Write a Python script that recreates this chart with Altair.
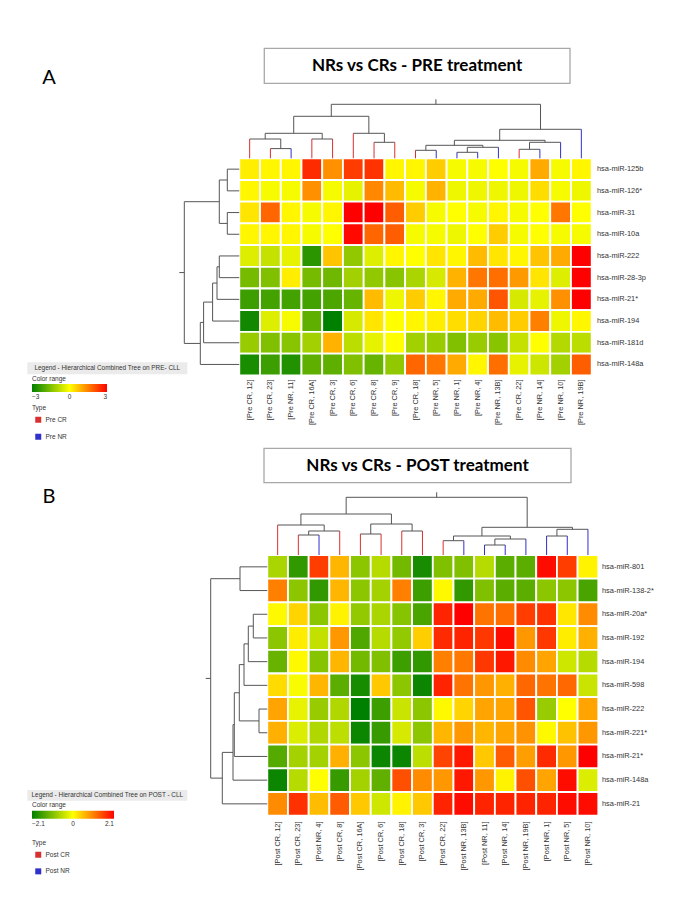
import altair as alt
import pandas as pd

# ---------------- data: panel A (PRE) ----------------
rows_A = ["hsa-miR-125b", "hsa-miR-126*", "hsa-miR-31", "hsa-miR-10a", "hsa-miR-222",
          "hsa-miR-28-3p", "hsa-miR-21*", "hsa-miR-194", "hsa-miR-181d", "hsa-miR-148a"]
cols_A = ["[Pre CR, 12]", "[Pre CR, 23]", "[Pre NR, 11]", "[Pre CR, 16A]", "[Pre CR, 3]",
          "[Pre CR, 6]", "[Pre CR, 8]", "[Pre CR, 9]", "[Pre CR, 18]", "[Pre NR, 5]",
          "[Pre NR, 1]", "[Pre NR, 4]", "[Pre NR, 13B]", "[Pre CR, 22]", "[Pre NR, 14]",
          "[Pre NR, 10]", "[Pre NR, 19B]"]
vals_A_125b = [0.2, 0.1, 0.1, 2.5, 1.3, 2.3, 2.4, 0.1, 0.1, 0.6, -0.1, -0.1, 0.0, -0.1, 1.0, -0.1, 0.1]
vals_A_126 = [0.1, -0.1, -0.1, 1.3, -0.1, -0.3, 1.4, 0.8, -0.1, 0.9, -0.2, -0.2, -0.2, -0.2, 0.4, -0.1, -0.2]
vals_A_31 = [0.3, 1.8, 0.1, -0.1, 0.1, 3.0, 3.0, 1.9, 0.6, -0.1, 0.0, -0.1, 0.1, -0.1, 0.0, 1.6, 0.0]
vals_A_10a = [0.1, 0.1, 0.1, -0.1, 0.0, 2.9, 1.8, 1.9, -0.1, -0.1, -0.2, 0.0, 0.6, -0.1, 0.0, -0.1, -0.1]
vals_A_222 = [-0.4, -0.7, -0.3, -2.5, 0.7, -1.3, -0.4, 0.1, 0.0, 0.3, 0.1, 0.8, 0.3, 0.1, 0.7, 1.0, 3.0]
vals_A_28 = [-1.6, -1.5, 0.2, -1.6, -1.7, -1.1, -1.3, -1.4, -1.0, -0.5, 0.9, 1.6, 1.7, 1.2, 0.3, -0.4, 3.0]
vals_A_21s = [-2.3, -2.2, -2.2, -2.2, -2.1, -1.8, 0.8, -0.2, 0.6, 0.1, 1.0, 1.0, 2.0, -0.5, -0.3, 1.3, 3.0]
vals_A_194 = [-2.8, -0.4, -0.1, -1.9, -3.0, -0.5, 0.3, 0.0, 0.1, 0.2, 0.4, 0.5, 0.8, 0.6, 1.5, -0.2, 0.1]
vals_A_181d = [-1.2, -1.5, -1.4, -1.1, 0.9, -0.8, -0.3, 0.0, -1.1, -1.2, -1.5, -1.2, -1.4, -0.7, 0.0, -0.9, -0.8]
vals_A_148a = [-2.7, -2.3, -2.6, -1.9, -1.9, -1.5, -1.8, -1.3, 1.8, 1.6, 1.0, 0.1, 1.7, -0.3, -0.6, -1.1, 1.9]
vals_A = [vals_A_125b, vals_A_126, vals_A_31, vals_A_10a, vals_A_222,
          vals_A_28, vals_A_21s, vals_A_194, vals_A_181d, vals_A_148a]
# dendrogram merges: (child, child, height); leaves 0..n-1, merged nodes n, n+1, ...
link_cols_A = [(1, 2, 9.7), (0, 17, 19.3), (3, 4, 19.3), (18, 19, 25), (6, 7, 16), (5, 21, 25),
               (20, 22, 42), (8, 9, 8), (10, 11, 6), (25, 12, 11), (24, 26, 13), (13, 14, 9),
               (28, 15, 16), (27, 29, 18), (30, 16, 29), (23, 31, 54)]
link_rows_A = [(0, 1, 12), (2, 3, 12), (10, 11, 20), (4, 5, 20), (13, 6, 22.3), (14, 7, 26.7),
               (15, 8, 35.7), (16, 9, 39), (12, 17, 55)]

# ---------------- data: panel B (POST) ----------------
rows_B = ["hsa-miR-801", "hsa-miR-138-2*", "hsa-miR-20a*", "hsa-miR-192", "hsa-miR-194",
          "hsa-miR-598", "hsa-miR-222", "hsa-miR-221*", "hsa-miR-21*", "hsa-miR-148a", "hsa-miR-21"]
cols_B = ["[Post CR, 12]", "[Post CR, 23]", "[Post NR, 4]", "[Post CR, 8]", "[Post CR, 16A]",
          "[Post CR, 6]", "[Post CR, 18]", "[Post CR, 3]", "[Post CR, 22]", "[Post NR, 13B]",
          "[Post NR, 11]", "[Post NR, 14]", "[Post NR, 19B]", "[Post NR, 1]", "[Post NR, 5]",
          "[Post NR, 10]"]
vals_B_801 = [-0.7, -1.7, 1.6, 0.6, -0.95, -0.6, -1.15, -1.9, -1.05, -1.05, -0.6, -1.35, -1.35, 2.0, 1.6, 0.1]
vals_B_138 = [1.05, -0.95, -1.7, 0.6, -0.95, -0.75, 1.05, -1.6, 0.05, -1.7, -1.05, -1.35, -1.35, -0.95, -0.95, -1.5]
vals_B_20a = [0.05, 0.35, -0.95, 0.1, -0.9, -0.7, -1.0, -1.5, 1.8, 2.1, 1.15, 1.2, 1.6, 1.7, 0.2, 0.95]
vals_B_192 = [-0.95, 0.15, -0.5, 0.85, -1.45, -0.6, -0.9, 0.4, 1.75, 1.8, 1.65, 2.0, 0.85, 1.65, 0.15, 0.65]
vals_B_194 = [-1.25, 0.05, -1.0, 0.6, -1.15, -1.05, -1.6, -1.7, 1.05, 1.1, 1.65, 1.9, 0.95, 0.75, -0.4, -0.6]
vals_B_598 = [0.3, -0.05, 0.6, -1.35, -1.9, 0.45, -0.95, -2.0, 1.8, 1.15, 0.85, 0.65, 1.25, 1.15, 1.25, -0.45]
vals_B_222 = [0.75, -0.2, -0.85, -0.65, -2.1, -1.6, -0.45, -0.95, 0.05, 0.35, 0.75, 0.75, 1.4, -0.85, 0.0, 0.75]
vals_B_221s = [0.65, -0.3, -0.65, -0.55, -2.0, -1.65, -0.35, -0.95, 0.6, 0.85, 0.6, 0.75, 0.9, 0.05, 0.5, 0.85]
vals_B_21s = [-1.4, -0.75, -0.75, 0.65, -0.95, -2.0, -2.0, -0.55, 1.55, 1.9, 0.45, 1.35, 0.8, 1.75, 0.85, 2.1]
vals_B_148a = [-2.0, -0.6, 0.0, -1.65, -0.75, -1.3, 1.45, 0.95, 0.85, 1.9, 0.85, 0.1, 1.45, 0.75, 2.0, -0.3]
vals_B_21 = [0.95, 1.7, 0.55, 1.35, 0.45, -0.4, 0.1, 0.45, 1.8, 2.0, 1.8, 1.8, 1.8, 1.8, 2.0, 2.0]
vals_B = [vals_B_801, vals_B_138, vals_B_20a, vals_B_192, vals_B_194, vals_B_598,
          vals_B_222, vals_B_221s, vals_B_21s, vals_B_148a, vals_B_21]
link_cols_B = [(1, 2, 20), (16, 3, 24), (0, 17, 30), (4, 5, 21), (6, 7, 24), (19, 20, 31),
               (18, 21, 41), (8, 9, 14.3), (10, 11, 10), (24, 12, 16), (23, 25, 19), (13, 14, 19),
               (27, 15, 25.7), (26, 28, 27.7), (22, 29, 57.7)]
link_rows_B = [(0, 1, 27.3), (2, 3, 14), (12, 4, 19), (13, 5, 23.3), (6, 7, 8.3), (14, 15, 28),
               (16, 8, 33), (17, 9, 34.3), (18, 10, 45), (11, 19, 56.6)]

# ---------------- styling ----------------
FONT = "Liberation Sans"
TFONT = "Lato"
LBL = "#333333"
DGRAY = "#555555"
GREEN, YELLOW, RED = "#008000", "#ffff00", "#ff0000"
OFF = 8  # page margin


def P(v):
    return v - OFF


def dendro(links, n, stub=5.0):
    pos = {i: i + 0.5 for i in range(n)}
    ht = {i: 0.0 for i in range(n)}
    inner, leaves = [], []
    for k, (a, b, h) in enumerate(links):
        node = n + k
        for c in (a, b):
            seg = dict(p1=pos[c], p2=pos[c], h1=ht[c], h2=h)
            if c < n:
                seg["leaf"] = c
                leaves.append(seg)
            else:
                inner.append(seg)
        inner.append(dict(p1=pos[a], p2=pos[b], h1=h, h2=h))
        pos[node] = (pos[a] + pos[b]) / 2
        ht[node] = h
    root = n + len(links) - 1
    inner.append(dict(p1=pos[root], p2=pos[root], h1=ht[root], h2=ht[root] + stub))
    return pd.DataFrame(inner), pd.DataFrame(leaves)


def lin(domain, rng):
    return alt.Scale(domain=domain, range=rng, zero=False, nice=False)


def panel(rows, cols, vals, lc, lr, cmax, g):
    nr, nc = len(rows), len(cols)
    xs = lin([0, nc], [g["x0"], g["x1"]])
    ys = lin([0, nr], [g["y0"], g["y1"]])
    hs_col = lin([0, 70], [g["y0"], g["y0"] - 70])
    hs_row = lin([0, 70], [g["x0"], g["x0"] - 70])
    layers = []

    recs = []
    for i, r in enumerate(rows):
        for j, c in enumerate(cols):
            recs.append(dict(c=j, c2=j + 1, r=i, r2=i + 1, v=vals[i][j], row=r, col=c))
    heat = alt.Chart(pd.DataFrame(recs)).mark_rect(stroke="white", strokeWidth=1.8).encode(
        x=alt.X("c:Q", scale=xs, axis=None), x2="c2:Q",
        y=alt.Y("r:Q", scale=ys, axis=None), y2="r2:Q",
        color=alt.Color("v:Q",
                        scale=alt.Scale(domain=[-cmax, 0, cmax], range=[GREEN, YELLOW, RED],
                                        interpolate="rgb"),
                        legend=alt.Legend(orient="none", legendX=g["clx"], legendY=g["cly"],
                                          direction="horizontal", title="Color range",
                                          gradientLength=g["glen"], gradientThickness=8,
                                          gradientStrokeWidth=0, format=".1~f",
                                          values=[-cmax, 0, cmax], labelOverlap=False,
                                          titleFontSize=6.5, titleFontWeight="normal",
                                          titleFont=FONT, titleColor=LBL, titlePadding=2,
                                          labelFontSize=6.5, labelFont=FONT, labelColor=LBL,
                                          labelOffset=2)))
    layers.append(heat)

    rl = pd.DataFrame(dict(r=[i + 0.5 for i in range(nr)], name=rows))
    layers.append(alt.Chart(rl).mark_text(align="left", baseline="middle", fontSize=7.4,
                                          font=FONT, color=LBL).encode(
        x=alt.value(g["rlx"]), y=alt.Y("r:Q", scale=ys, axis=None), text="name:N"))

    cl = pd.DataFrame(dict(c=[j + 0.5 for j in range(nc)], name=cols))
    layers.append(alt.Chart(cl).mark_text(align="right", baseline="middle", angle=270,
                                          fontSize=7.4, font=FONT, color=LBL).encode(
        x=alt.X("c:Q", scale=xs, axis=None), y=alt.value(g["cly0"]), text="name:N"))

    # column dendrogram
    inner, leaves = dendro(lc, nc)
    leaves["type"] = [cols[int(k)][1:].split(",")[0] for k in leaves["leaf"]]
    layers.append(alt.Chart(inner).mark_rule(color=DGRAY, strokeWidth=1).encode(
        x=alt.X("p1:Q", scale=xs, axis=None), x2="p2:Q",
        y=alt.Y("h1:Q", scale=hs_col, axis=None), y2="h2:Q"))
    types = [t for t in dict.fromkeys(c[1:].split(",")[0] for c in cols)]
    types = sorted(types, key=lambda t: 0 if "CR" in t else 1)
    layers.append(alt.Chart(leaves).mark_rule(strokeWidth=1).encode(
        x=alt.X("p1:Q", scale=xs, axis=None), x2="p2:Q",
        y=alt.Y("h1:Q", scale=hs_col, axis=None), y2="h2:Q",
        color=alt.Color("type:N", scale=alt.Scale(domain=types, range=["#d83030", "#3030cc"]),
                        legend=alt.Legend(orient="none", legendX=g["tlx"], legendY=g["tly"],
                                          title="Type", symbolType="square", symbolSize=9,
                                          symbolStrokeWidth=3, symbolOffset=3,
                                          titleFontSize=6.5, titleFontWeight="normal",
                                          titleFont=FONT, titleColor=LBL, titlePadding=5,
                                          labelFontSize=6.5, labelFont=FONT, labelColor=LBL,
                                          labelOffset=4, rowPadding=g["rowpad"]))))

    # row dendrogram
    rinner, rleaves = dendro(lr, nr)
    rall = pd.concat([rinner, rleaves.drop(columns=["leaf"])], ignore_index=True)
    layers.append(alt.Chart(rall).mark_rule(color=DGRAY, strokeWidth=1).encode(
        x=alt.X("h1:Q", scale=hs_row, axis=None), x2="h2:Q",
        y=alt.Y("p1:Q", scale=ys, axis=None), y2="p2:Q"))

    # title box
    tb = pd.DataFrame(dict(t=[g["title"]]))
    layers.append(alt.Chart(tb).mark_rect(fill="white", stroke="#a8a8a8", strokeWidth=1.3).encode(
        x=alt.value(g["tb"][0]), x2=alt.value(g["tb"][2]),
        y=alt.value(g["tb"][1]), y2=alt.value(g["tb"][3])))
    layers.append(alt.Chart(tb).mark_text(font=TFONT, fontSize=17, fontWeight="bold",
                                          color="black", baseline="middle").encode(
        x=alt.value((g["tb"][0] + g["tb"][2]) / 2), y=alt.value((g["tb"][1] + g["tb"][3]) / 2 + 0.5),
        text="t:N"))
    # panel letter
    layers.append(alt.Chart(pd.DataFrame(dict(t=[g["letter"]]))).mark_text(
        font=TFONT, fontSize=20, color="black", baseline="middle").encode(
        x=alt.value(g["lx"]), y=alt.value(g["ly"]), text="t:N"))
    # legend header box
    lh = pd.DataFrame(dict(t=[g["lhtext"]]))
    layers.append(alt.Chart(lh).mark_rect(fill="#ebebeb").encode(
        x=alt.value(g["lh"][0]), x2=alt.value(g["lh"][2]),
        y=alt.value(g["lh"][1]), y2=alt.value(g["lh"][3])))
    layers.append(alt.Chart(lh).mark_text(font=FONT, fontSize=6.4, color=LBL, baseline="middle").encode(
        x=alt.value((g["lh"][0] + g["lh"][2]) / 2), y=alt.value((g["lh"][1] + g["lh"][3]) / 2),
        text="t:N"))
    return layers


geom_A = dict(x0=P(239.3), x1=P(591.7), y0=P(158.3), y1=P(375.3), rlx=P(597), cly0=P(379.5),
              title="NRs vs CRs - PRE treatment", tb=(P(264.3), P(48.3), P(570), P(83.3)),
              letter="A", lx=P(49), ly=P(78),
              lhtext="Legend - Hierarchical Combined Tree on PRE- CLL",
              lh=(P(27.3), P(362.3), P(187.3), P(374.3)),
              clx=P(32), cly=P(375.5), glen=75, tlx=P(32), tly=P(405), rowpad=1.0)
geom_B = dict(x0=P(267.3), x1=P(598.3), y0=P(555), y1=P(815.7), rlx=P(602), cly0=P(821.5),
              title="NRs vs CRs - POST treatment", tb=(P(264), P(448.3), P(571), P(482.7)),
              letter="B", lx=P(49), ly=P(497),
              lhtext="Legend - Hierarchical Combined Tree on POST - CLL",
              lh=(P(27.3), P(790), P(187.3), P(800.7)),
              clx=P(32), cly=P(802.3), glen=82, tlx=P(32), tly=P(840), rowpad=0.6)

layers = panel(rows_A, cols_A, vals_A, link_cols_A, link_rows_A, 3, geom_A) + \
         panel(rows_B, cols_B, vals_B, link_cols_B, link_rows_B, 2.1, geom_B)

chart = alt.layer(*layers).resolve_scale(
    x="independent", y="independent", color="independent"
).properties(
    width=669, height=897, padding=0, autosize=alt.AutoSizeParams(type="none")
).configure_view(strokeWidth=0)

chart.save("out.html", embed_options={"renderer": "svg", "actions": False})
